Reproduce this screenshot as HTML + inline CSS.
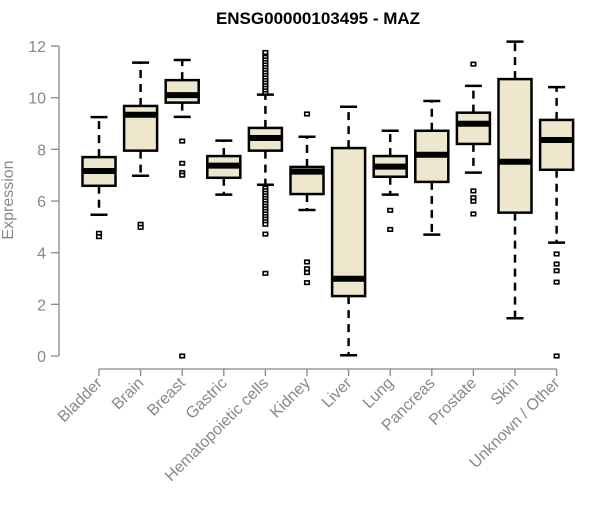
<!DOCTYPE html>
<html><head><meta charset="utf-8"><style>
body{margin:0;background:#fff}
svg text{font-family:"Liberation Sans",Arial,sans-serif}
</style></head><body>
<svg id="chart" width="600" height="500" xmlns="http://www.w3.org/2000/svg">
<text x="318" y="24" text-anchor="middle" font-size="17" font-weight="bold">ENSG00000103495 - MAZ</text>
<text transform="translate(13,200) rotate(-90)" text-anchor="middle" font-size="16" fill="#888">Expression</text>
<g id="yaxis"></g>
<g id="xaxis"></g>
<g id="boxes"></g>
</svg>
<script>
const categories=["Bladder","Brain","Breast","Gastric","Hematopoietic cells","Kidney","Liver","Lung","Pancreas","Prostate","Skin","Unknown / Other"];
const whiskerLow=[5.47,6.98,9.26,6.25,6.63,5.65,0.03,6.25,4.70,7.10,1.46,4.39];
const q1=[6.59,7.95,9.81,6.90,7.95,6.27,2.32,6.94,6.74,8.21,5.55,7.21];
const median=[7.16,9.34,10.10,7.37,8.44,7.14,2.99,7.33,7.79,8.99,7.52,8.36];
const q3=[7.70,9.68,10.68,7.74,8.83,7.32,8.05,7.74,8.72,9.42,10.72,9.14];
const whiskerHigh=[9.25,11.36,11.46,8.34,10.12,8.49,9.65,8.72,9.87,10.46,12.17,10.41];
const outliers=[[4.75,4.62],[5.10,4.98],[8.32,7.46,7.10,7.0,0],[],
[10.2,10.3,10.4,10.5,10.6,10.7,10.8,10.9,11.0,11.1,11.2,11.3,11.4,11.5,11.6,11.7,11.75,6.5,6.4,6.3,6.2,6.1,6.0,5.9,5.8,5.7,5.6,5.5,5.4,5.3,5.2,5.1,4.72,3.2],
[9.37,3.64,3.38,3.23,2.84],[],[5.64,4.90],[],[11.30,6.39,6.13,5.99,5.50],[],[3.95,3.56,3.30,2.86,0]];
const yTicks=[0,2,4,6,8,10,12];
const NS="http://www.w3.org/2000/svg";
function y(v){return 356-v*25.83;}
function x(i){return 99+i*41.6;}
function mk(tag,attrs,parent){const e=document.createElementNS(NS,tag);for(const k in attrs)e.setAttribute(k,attrs[k]);parent.appendChild(e);return e;}
const ya=document.getElementById('yaxis'),xa=document.getElementById('xaxis'),bx=document.getElementById('boxes');
mk('line',{x1:59,x2:59,y1:y(0),y2:y(12),stroke:'#888','stroke-width':1.3},ya);
yTicks.forEach(t=>{
 mk('line',{x1:51,x2:59,y1:y(t),y2:y(t),stroke:'#888','stroke-width':1.3},ya);
 const tx=mk('text',{x:46,y:y(t)+6,'text-anchor':'end','font-size':16,fill:'#888'},ya);
 tx.textContent=t;
 
 
});
mk('line',{x1:x(0),x2:x(11),y1:369,y2:369,stroke:'#888','stroke-width':1.3},xa);
categories.forEach((c,i)=>{
 mk('line',{x1:x(i),x2:x(i),y1:369,y2:376,stroke:'#888','stroke-width':1.3},xa);
 const tx=mk('text',{transform:`translate(${x(i)+4},384) rotate(-45)`,'text-anchor':'end','font-size':16,fill:'#888'},xa);
 tx.textContent=c;
 
 
 const g=mk('g',{},bx);
 
 
 const cx=x(i);
 mk('line',{x1:cx,x2:cx,y1:y(q3[i]),y2:y(whiskerHigh[i]),stroke:'#000','stroke-width':2.5,'stroke-dasharray':'8,6'},g);
 mk('line',{x1:cx,x2:cx,y1:y(q1[i]),y2:y(whiskerLow[i]),stroke:'#000','stroke-width':2.5,'stroke-dasharray':'8,6'},g);
 mk('line',{x1:cx-8.5,x2:cx+8.5,y1:y(whiskerHigh[i]),y2:y(whiskerHigh[i]),stroke:'#000','stroke-width':2.5},g);
 mk('line',{x1:cx-8.5,x2:cx+8.5,y1:y(whiskerLow[i]),y2:y(whiskerLow[i]),stroke:'#000','stroke-width':2.5},g);
 mk('rect',{x:cx-16.5,y:y(q3[i]),width:33,height:y(q1[i])-y(q3[i]),fill:'#ede7cd',stroke:'#000','stroke-width':2.5},g);
 mk('line',{x1:cx-16.5,x2:cx+16.5,y1:y(median[i]),y2:y(median[i]),stroke:'#000','stroke-width':6},g);
 outliers[i].forEach(v=>{
  const p=mk('rect',{x:cx-2.25,y:y(v)-1.75,width:4.5,height:3.5,fill:'#fff',stroke:'#000','stroke-width':1.6},g);
  
  
 });
});
</script>
</body></html>
